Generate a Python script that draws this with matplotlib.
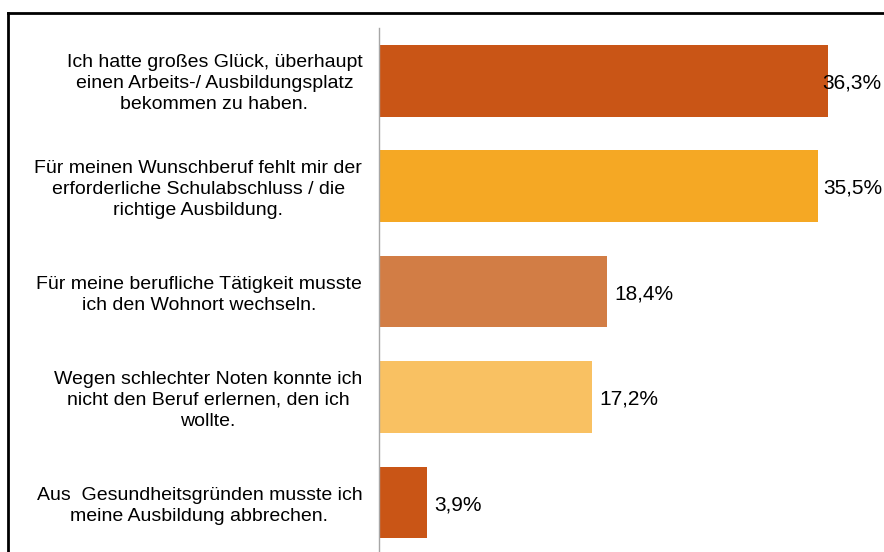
import matplotlib
matplotlib.use("Agg")
import matplotlib.pyplot as plt

plt.rcParams["font.family"] = ["Liberation Sans", "DejaVu Sans"]

# survey answers and their shares in percent
categories = [
    "Ich hatte großes Glück, überhaupt\neinen Arbeits-/ Ausbildungsplatz\nbekommen zu haben.",
    "Für meinen Wunschberuf fehlt mir der\nerforderliche Schulabschluss / die\nrichtige Ausbildung.",
    "Für meine berufliche Tätigkeit musste\nich den Wohnort wechseln.",
    "Wegen schlechter Noten konnte ich\nnicht den Beruf erlernen, den ich\nwollte.",
    "Aus  Gesundheitsgründen musste ich\nmeine Ausbildung abbrechen.",
]
values = [36.3, 35.5, 18.4, 17.2, 3.9]
value_labels = ["36,3%", "35,5%", "18,4%", "17,2%", "3,9%"]
colors = ["#C95516", "#F5A824", "#D27D45", "#F9C162", "#C95516"]

fig = plt.figure(figsize=(8.84, 5.52), dpi=100)
ax = fig.add_axes([379 / 884, 0.0, 0.5597, 1 - 28 / 552])

ypos = list(range(len(values)))
ax.barh(ypos, values, height=0.68, color=colors)
ax.set_xlim(0, 40)
ax.set_ylim(4.47, -0.5)

for i, (v, lab) in enumerate(zip(values, value_labels)):
    if i == 0:
        # the first label sits over the end of the bar
        ax.text(v - 0.45, i + 0.02, lab, ha="left", va="center", fontsize=15)
    elif i == 1:
        ax.text(v + 0.4, i + 0.02, lab, ha="left", va="center", fontsize=15)
    else:
        ax.text(v + 0.6, i + 0.02, lab, ha="left", va="center", fontsize=15)

for i, cat in enumerate(categories):
    ax.text(-1.35, i + 0.03, cat, ha="right", va="center", multialignment="center",
            fontsize=14, linespacing=1.3)

ax.set_xticks([])
ax.set_yticks([])
for s in ["top", "right", "bottom"]:
    ax.spines[s].set_visible(False)
ax.spines["left"].set_color("#A6A6A6")
ax.spines["left"].set_linewidth(1.0)

# frame line along top and left of the picture
fig.add_artist(plt.Line2D([8 / 884, 1.0], [1 - 13 / 552, 1 - 13 / 552],
                          transform=fig.transFigure, color="black", lw=2))
fig.add_artist(plt.Line2D([8 / 884, 8 / 884], [0.0, 1 - 13 / 552],
                          transform=fig.transFigure, color="black", lw=2))

fig.savefig("out.png", dpi=100)
